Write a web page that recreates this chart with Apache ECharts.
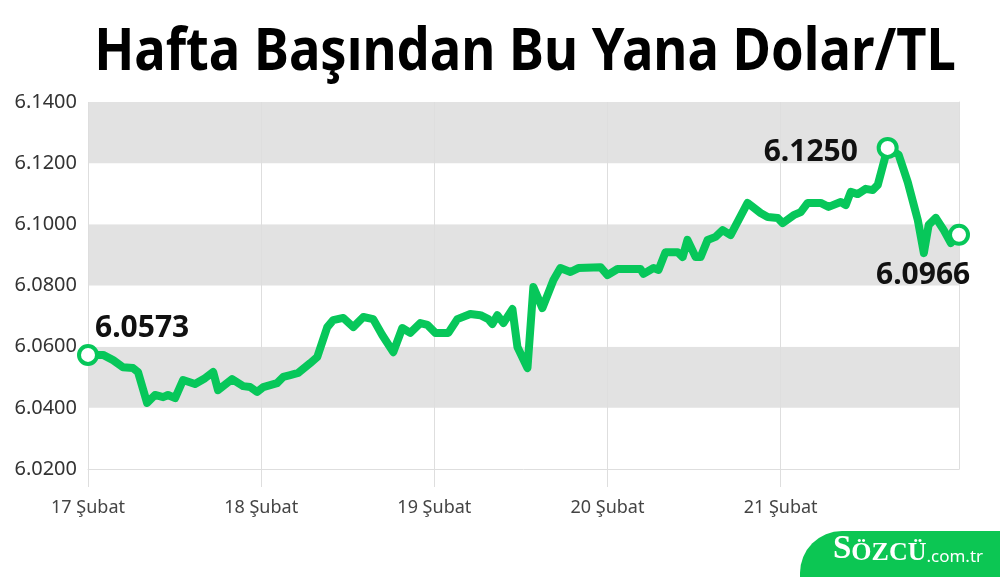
<!DOCTYPE html>
<html>
<head>
<meta charset="utf-8">
<script src="https://cdn.jsdelivr.net/npm/echarts@6/dist/echarts.min.js"></script>
<style>
html,body{margin:0;padding:0;background:#fff;}
#chart{width:1000px;height:577px;}
</style>
</head>
<body>
<div id="chart"></div>
<script>
// Day offsets from 17 Şubat 00:00 (in days)
const days = [0,0.087,0.145,0.202,0.260,0.289,0.341,0.387,0.434,0.462,0.503,0.549,0.618,0.676,0.723,0.751,0.832,0.896,0.936,0.977,
  1.012,1.092,1.127,1.168,1.214,1.283,1.324,1.382,1.416,1.474,1.532,1.590,1.647,1.699,1.763,1.815,1.861,1.919,1.960,
  2.006,2.081,2.133,2.208,2.266,2.312,2.335,2.364,2.399,2.451,2.480,2.538,2.572,2.624,2.688,2.728,2.786,2.832,2.960,
  3.000,3.058,3.191,3.208,3.266,3.295,3.335,3.405,3.434,3.462,3.509,3.538,3.578,3.624,3.665,3.711,3.809,3.884,3.925,3.983,
  4.012,4.075,4.116,4.156,4.231,4.277,4.347,4.376,4.405,4.445,4.491,4.532,4.561,4.618,4.682,4.734,4.792,4.827,4.855,4.896,4.942,4.983,5.030];
const rates = [6.0573,6.0573,6.0556,6.0533,6.0530,6.0517,6.0416,6.0442,6.0435,6.0442,6.0432,6.0491,6.0478,6.0497,6.0517,6.0458,6.0494,6.0471,6.0468,6.0452,
  6.0468,6.0481,6.0501,6.0507,6.0514,6.0546,6.0566,6.0664,6.0687,6.0694,6.0664,6.0697,6.0690,6.0638,6.0582,6.0661,6.0645,6.0677,6.0671,
  6.0645,6.0645,6.0690,6.0707,6.0703,6.0690,6.0674,6.0703,6.0677,6.0723,6.0599,6.0530,6.0795,6.0726,6.0818,6.0857,6.0844,6.0857,6.0860,
  6.0834,6.0854,6.0854,6.0838,6.0857,6.0851,6.0909,6.0909,6.0893,6.0949,6.0893,6.0893,6.0949,6.0959,6.0981,6.0965,6.1070,6.1037,6.1024,6.1021,
  6.1004,6.1030,6.1040,6.1070,6.1070,6.1057,6.1073,6.1063,6.1106,6.1099,6.1116,6.1112,6.1129,6.1250,6.1227,6.1138,6.1014,6.0906,6.0998,6.1021,6.0981,6.0939,6.0966];
const dayTicks = [0,1,2,3,4];
const dayLabels = ['17 Şubat','18 Şubat','19 Şubat','20 Şubat','21 Şubat'];
const titleText = 'Hafta Başından Bu Yana Dolar/TL';

const green = '#07c75a';
const lineData = days.map((d,i)=>[d,rates[i]]);
const maxIdx = rates.indexOf(Math.max(...rates));
const lastIdx = rates.length-1;

const chart = echarts.init(document.getElementById('chart'), null, {renderer:'canvas'});
chart.setOption({
  backgroundColor:'#fff',
  animation:false,
  grid:{left:88, right:41, top:102, bottom:108},
  xAxis:{
    type:'value', min:0, max:5.03,
    axisLine:{show:true, lineStyle:{color:'#dedede', width:1}},
    axisTick:{show:true, length:18, customValues:dayTicks, lineStyle:{color:'#dedede'}},
    splitLine:{show:true, lineStyle:{color:'#dedede', width:1}},
    axisLabel:{
      margin:30, fontFamily:'Noto Sans', fontSize:18, color:'#444',
      customValues:dayTicks,
      formatter:(v)=>dayLabels[Math.round(v)] || ''
    }
  },
  yAxis:[{
    type:'value', min:6.02, max:6.14, interval:0.02,
    axisLine:{show:false}, axisTick:{show:false},
    splitLine:{show:false},
    splitArea:{show:true, areaStyle:{color:['#ffffff','#e2e2e2']}},
    axisLabel:{margin:11, fontFamily:'Noto Sans', fontSize:20, color:'#333', formatter:(v)=>v.toFixed(4)}
  },{
    type:'value', min:6.02, max:6.14, interval:0.02, position:'right',
    axisLine:{show:true, lineStyle:{color:'#dedede'}}, axisTick:{show:false},
    axisLabel:{show:false}, splitLine:{show:false}
  }],
  series:[{
    type:'line', data:lineData, yAxisIndex:0,
    lineStyle:{color:green, width:8, join:'round', cap:'round'},
    symbol:'none', z:3,
    markPoint:{
      symbol:'circle', symbolSize:18,
      itemStyle:{color:'#fff', borderColor:green, borderWidth:4},
      label:{show:true, fontFamily:'Noto Sans', fontWeight:'bold', fontSize:30, color:'#111'},
      data:[
        {coord:lineData[0], value:rates[0].toFixed(4), label:{position:[18,-30], formatter:rates[0].toFixed(4)}},
        {coord:lineData[maxIdx], value:rates[maxIdx].toFixed(4), label:{position:[-113,1], formatter:rates[maxIdx].toFixed(4)}},
        {coord:lineData[lastIdx], value:rates[lastIdx].toFixed(4), label:{position:[-72,37], formatter:rates[lastIdx].toFixed(4)}}
      ]
    }
  }],
  graphic:[
    {type:'text', x:525, y:53, scaleX:0.89, originX:0, originY:0,
      style:{text:titleText, fill:'#000', font:'bold 59px "Noto Sans"', textAlign:'center', textVerticalAlign:'middle'}, z:10},
    {type:'rect', left:800, top:531, shape:{width:200, height:46, r:[42,0,0,0]}, style:{fill:'#0cc653'}, z:10},
    {type:'text', left:833, top:533, style:{
      text:'{a|S}{b|ÖZCÜ}{c|.com.tr}',
      rich:{
        a:{fill:'#fff', font:'bold 33px "Liberation Serif"', verticalAlign:'bottom'},
        b:{fill:'#fff', font:'bold 26px "Liberation Serif"', verticalAlign:'bottom'},
        c:{fill:'#fff', font:'17px "Noto Sans"', verticalAlign:'bottom'}
      }}, z:11}
  ]
});
</script>
</body>
</html>
